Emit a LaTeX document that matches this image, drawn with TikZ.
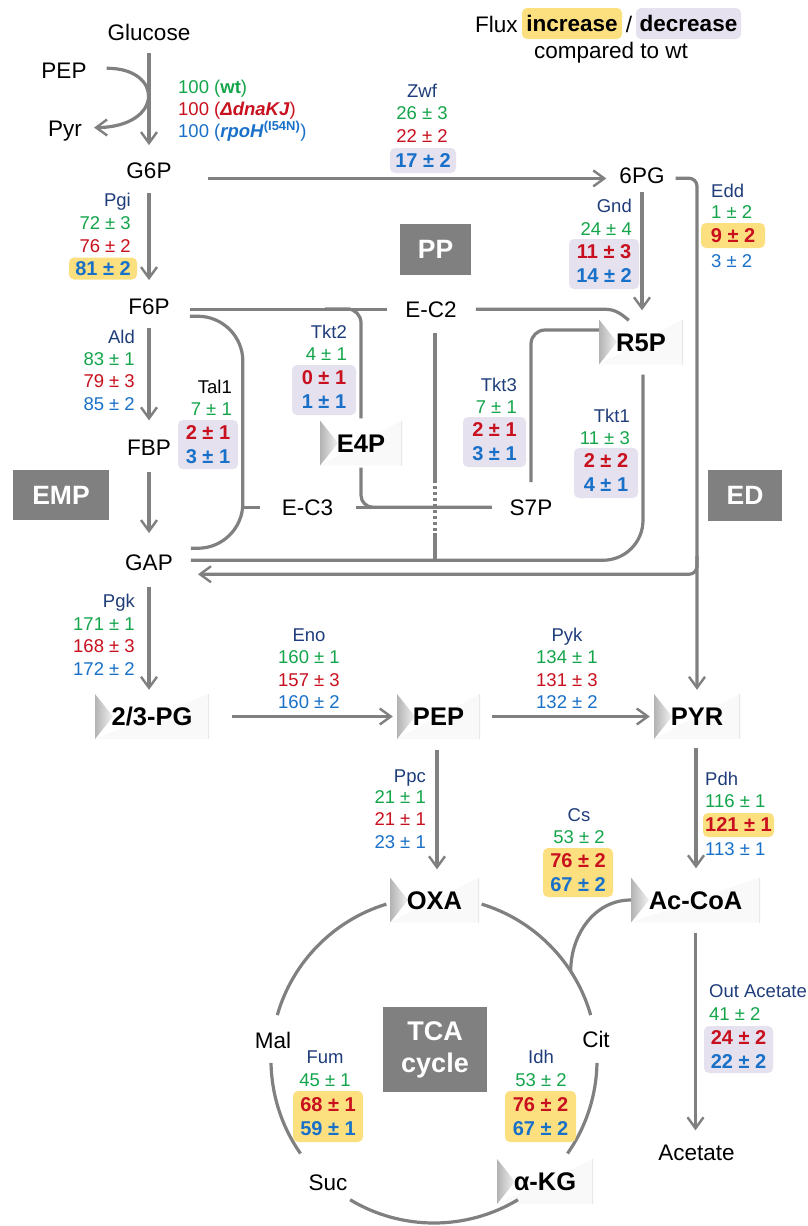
\documentclass[tikz,border=0pt]{standalone}
\usepackage{fontspec}
\setmainfont{Liberation Sans}
\usetikzlibrary{arrows.meta,calc}
\definecolor{lc}{RGB}{128,128,128}
\definecolor{boxg}{RGB}{128,128,128}
\definecolor{enzc}{RGB}{31,61,122}
\definecolor{vgc}{RGB}{20,165,75}
\definecolor{vrc}{RGB}{200,16,30}
\definecolor{vbc}{RGB}{24,112,200}
\definecolor{yel}{RGB}{252,224,128}
\definecolor{lav}{RGB}{229,225,238}
\tikzset{
  line/.style={draw=lc, line width=3.2pt},
  arr/.style={line, -{Straight Barb[length=11pt,width=16pt,line width=2.4pt]}},
  met/.style={font=\fontsize{22.5}{26}\selectfont, inner sep=0pt, anchor=base},
  leg/.style={font=\fontsize{22.5}{26}\selectfont, inner sep=0pt},
  legb/.style={font=\bfseries\fontsize{22.5}{26}\selectfont, inner sep=0pt, rounded corners=5pt},
  bm/.style={font=\bfseries\fontsize{25.5}{30}\selectfont, inner sep=0pt, minimum height=45pt,
    text height=18.3pt, text depth=0pt, fill=white,
    path picture={
      \fill[gray!5] (path picture bounding box.south west) -- (path picture bounding box.north east) -- (path picture bounding box.south east) -- cycle;
      \shade[left color=gray!60, right color=gray!10] (path picture bounding box.north west) -- ([xshift=18pt]path picture bounding box.west) -- (path picture bounding box.south west) -- cycle;
      \draw[gray!18, line width=1.5pt] (path picture bounding box.north east) -- (path picture bounding box.south east);
    }},
  pbox/.style={fill=boxg, text=white, font=\bfseries\fontsize{26.5}{30}\selectfont, inner sep=0pt},
  enz/.style={text=enzc, font=\fontsize{18.5}{22}\selectfont, inner sep=0pt},
  vk/.style={enz, text=black},
  vg/.style={enz, text=vgc},
  vr/.style={enz, text=vrc},
  vb/.style={enz, text=vbc},
  hly/.style={fill=yel, rounded corners=5pt, inner sep=0pt, align=center, font=\bfseries\fontsize{20}{24}\selectfont},
  hll/.style={hly, fill=lav},
}
\begin{document}
\begin{tikzpicture}[x=1pt,y=1pt]
\useasboundingbox[fill=white] (0,0) rectangle (808,-1226);

% ---------- legend ----------
\node[leg, anchor=base west] (flux) at (475,-32) {Flux};
\node[legb, fill=yel, minimum width=100pt, minimum height=31pt] (inc) at (572,-23.5) {increase};
\node[leg, anchor=base] (slash) at (629,-32) {/};
\node[legb, fill=lav, minimum width=105pt, minimum height=31pt] (dec) at (688.5,-23.5) {decrease};
\node[leg, anchor=base] (cmp) at (611,-58) {compared to wt};

% ---------- metabolites (plain) ----------
\node[met] (glc) at (149,-40) {Glucose};
\node[met] (pepl) at (64,-78) {PEP};
\node[met] (pyrl) at (65,-136) {Pyr};
\node[met] (g6p) at (149,-178) {G6P};
\node[met] (pg6) at (642,-183) {6PG};
\node[met] (f6p) at (149,-314) {F6P};
\node[met] (ec2) at (431,-317) {E-C2};
\node[met] (fbp) at (149,-455) {FBP};
\node[met] (ec3) at (307.5,-515) {E-C3};
\node[met] (s7p) at (531,-515) {S7P};
\node[met] (gap) at (149,-570) {GAP};
\node[met] (mal) at (273,-1048) {Mal};
\node[met] (cit) at (596,-1047) {Cit};
\node[met] (suc) at (328,-1190) {Suc};
\node[met] (acet) at (696.5,-1160) {Acetate};

% ---------- metabolites (boxed, bold) ----------
\node[bm, minimum width=84pt] (r5p) at (641,-342) {R5P};
\node[bm, minimum width=82pt] (e4p) at (361,-443) {E4P};
\node[bm, minimum width=114pt] (pg23) at (152,-716.5) {2/3-PG};
\node[bm, minimum width=83pt] (pepb) at (438.5,-716.5) {PEP};
\node[bm, minimum width=86pt] (pyr) at (697,-716.5) {PYR};
\node[bm, minimum width=89pt] (oxa) at (434.5,-900) {OXA};
\node[bm, minimum width=129pt] (accoa) at (695.5,-900) {Ac-CoA};
\node[bm, minimum width=96pt] (akg) at (545,-1181.5) {α-KG};

% ---------- pathway boxes ----------
\node[pbox, minimum width=71pt, minimum height=51pt] (pp) at (435.5,-249.5) {PP};
\node[pbox, minimum width=96pt, minimum height=50pt] (emp) at (61,-495) {EMP};
\node[pbox, minimum width=74pt, minimum height=51pt] (ed) at (745,-495.5) {ED};
\node[pbox, minimum width=104pt, minimum height=85pt, align=center, font=\bfseries\fontsize{27}{32}\selectfont] (tcab) at (435,-1049.5) {TCA\\cycle};

% ---------- connectors ----------
\draw[arr, shorten <=13pt, shorten >=17pt] (glc.south) -- (g6p.north);
\draw[arr] ([xshift=20pt,yshift=2pt]pepl.east) .. controls (164,-68) and (164,-127) .. ([xshift=12pt,yshift=3pt]pyrl.east);
\draw[arr, shorten <=15pt, shorten >=18pt] (g6p.south) -- (f6p.north);
\draw[arr, shorten <=14pt, shorten >=19pt] (f6p.south) -- (fbp.north);
\draw[arr, shorten <=17pt, shorten >=21pt] (fbp.south) -- (gap.north);
\draw[arr, shorten <=17pt, shorten >=4pt] (gap.south) -- (gap.south |- pg23.north);
\draw[arr, shorten <=36pt, shorten >=13pt] (g6p.south east) -- (g6p.south east -| pg6.west);
\draw[arr, rounded corners=8pt, shorten <=11pt, shorten >=4pt] ([yshift=-3pt]pg6.east) -| (pyr.north);
\coordinate (edj) at (697,-556);
\draw[arr, rounded corners=8pt, shorten >=25pt] (edj) |- ([yshift=-12pt]gap.east);
\draw[arr, shorten <=9pt, shorten >=9pt] (pg6.south) -- (pg6.south |- r5p.north);
\draw[line, rounded corners=40pt, shorten <=10pt, shorten >=18pt] ([xshift=2pt]r5p.south) |- ([yshift=2pt]gap.east);
% E-C2 vertical
\draw[line] ([xshift=4pt,yshift=-16pt]ec2.south) -- ++(0,-147) coordinate (dd1);
\draw[line, dash pattern=on 3pt off 3pt] (dd1) -- ++(0,-53) coordinate (dd2);
\draw[line] (dd2) -- ++(0,-27);
% F6P - E-C2 - R5P
\draw[line, shorten <=20pt, shorten >=18pt] ([yshift=-3pt]f6p.east) -- (ec2.west);
\draw[line, shorten <=19pt] (ec2.east) -- ([xshift=6pt]r5p.north west |- ec2.east) to[out=0,in=140] ([xshift=30pt,yshift=-1pt]r5p.north west);
% Tkt2
\coordinate (tk2s) at (325,-308.85);
\draw[line, rounded corners=14pt, shorten >=2pt] (tk2s) -| (e4p.north);
\draw[line, rounded corners=12pt, shorten <=2pt, shorten >=18pt] (e4p.south) |- (s7p.west);
% E-C3
\draw[line, shorten <=23pt, shorten >=18pt] (ec3.east) -- (s7p.west);
\draw[line, shorten <=22pt] (ec3.west) -- ++(-39,0);
% Tal1 bracket
\coordinate (talS) at ([xshift=20pt,yshift=-10pt]f6p.east);
\coordinate (talE) at ([xshift=18pt,yshift=14pt]gap.east);
\draw[line] (talS) -- ++(8,0) arc[start angle=90, end angle=0, radius=45] -- ++(0,-142) arc[start angle=0, end angle=-90, radius=45] -- (talE);
% Tkt3
\draw[line, rounded corners=14pt, shorten <=17pt] (s7p.north) |- ([yshift=12pt]r5p.west);
% lower glycolysis
\draw[arr, shorten <=23pt, shorten >=4pt] (pg23.east) -- (pepb.west);
\draw[arr, shorten <=12pt, shorten >=4pt] (pepb.east) -- (pyr.west);
\draw[arr, shorten <=11pt, shorten >=8pt] ([xshift=-1.5pt]pepb.south) -- ([xshift=-1.5pt]pepb.south |- oxa.north);
\draw[arr, shorten <=9pt, shorten >=9pt] ([xshift=-1pt]pyr.south) -- ([xshift=-1pt]pyr.south |- accoa.north);
\draw[arr, shorten <=10pt, shorten >=14pt] (accoa.south) -- (accoa.south |- acet.north);
% TCA cycle
\coordinate (tca) at (434,-1060);
\foreach \a/\b in {16/73, -35/-1, -121/-59, 181/215, 107/164}
  \draw[line] ([shift={(\a:163)}]tca) arc[start angle=\a, end angle=\b, radius=163];
\draw[line] (accoa.west) to[out=180,in=90] ([shift={(33:163)}]tca);

% ---------- flux labels ----------
\node[vg, anchor=base west] (w1) at (178,-93) {100 (\textbf{wt})};
\node[vr, anchor=base west] (w2) at (178,-115) {100 (\textbf{\textit{ΔdnaKJ}})};
\node[vb, anchor=base west] (w3) at (178,-137) {100 (\textbf{\textit{rpoH}}\textsuperscript{\textbf{(I54N)}})};
% Zwf
\node[enz, anchor=base] (zwf) at (422,-97) {Zwf};
\node[vg, anchor=base] (zwf1) at (422,-119) {26 ± 3};
\node[vr, anchor=base] (zwf2) at (422,-142) {22 ± 2};
\node[hll, minimum width=66pt, minimum height=25pt] (zwf3) at (423,-160.5) {\textcolor{vbc}{17 ± 2}};
% Edd
\node[enz, anchor=base west] (edd) at (711,-197) {Edd};
\node[vg, anchor=base west] (edd1) at (711,-218) {1 ± 2};
\node[hly, minimum width=64pt, minimum height=25pt] (edd2) at (733,-235.5) {\textcolor{vrc}{9 ± 2}};
\node[vb, anchor=base west] (edd3) at (711,-267) {3 ± 2};
% Gnd
\node[enz, anchor=base east] (gnd) at (632,-212) {Gnd};
\node[vg, anchor=base east] (gnd1) at (632,-235) {24 ± 4};
\node[hll, minimum width=70pt, minimum height=50pt] (gnd2) at (604,-264) {\textcolor{vrc}{11 ± 3}\\\textcolor{vbc}{14 ± 2}};
% Pgi
\node[enz, anchor=base east] (pgi) at (131,-206) {Pgi};
\node[vg, anchor=base east] (pgi1) at (131,-229) {72 ± 3};
\node[vr, anchor=base east] (pgi2) at (131,-252) {76 ± 2};
\node[hly, minimum width=68pt, minimum height=22pt] (pgi3) at (103,-268.5) {\textcolor{vbc}{81 ± 2}};
% Ald
\node[enz, anchor=base east] (ald) at (135,-343) {Ald};
\node[vg, anchor=base east] (ald1) at (135,-365) {83 ± 1};
\node[vr, anchor=base east] (ald2) at (135,-387) {79 ± 3};
\node[vb, anchor=base east] (ald3) at (135,-410) {85 ± 2};
% Tkt2
\node[enz, anchor=base east] (tkt2) at (347,-338) {Tkt2};
\node[vg, anchor=base east] (tkt21) at (347,-360) {4 ± 1};
\node[hll, minimum width=64pt, minimum height=50pt] (tkt22) at (324,-390) {\textcolor{vrc}{0 ± 1}\\\textcolor{vbc}{1 ± 1}};
% Tal1
\node[vk, anchor=base east] (tal) at (232,-393) {Tal1};
\node[vg, anchor=base east] (tal1) at (232,-415) {7 ± 1};
\node[hll, minimum width=60pt, minimum height=49pt] (tal2) at (208,-444.5) {\textcolor{vrc}{2 ± 1}\\\textcolor{vbc}{3 ± 1}};
% Tkt3
\node[enz, anchor=base east] (tkt3) at (517,-391) {Tkt3};
\node[vg, anchor=base east] (tkt31) at (517,-413) {7 ± 1};
\node[hll, minimum width=63pt, minimum height=50pt] (tkt32) at (494.5,-442) {\textcolor{vrc}{2 ± 1}\\\textcolor{vbc}{3 ± 1}};
% Tkt1
\node[enz, anchor=base east] (tkt1) at (630,-422) {Tkt1};
\node[vg, anchor=base east] (tkt11) at (630,-444) {11 ± 3};
\node[hll, minimum width=64pt, minimum height=50pt] (tkt12) at (606,-473) {\textcolor{vrc}{2 ± 2}\\\textcolor{vbc}{4 ± 1}};
% Pgk
\node[enz, anchor=base east] (pgk) at (135,-607) {Pgk};
\node[vg, anchor=base east] (pgk1) at (135,-630) {171 ± 1};
\node[vr, anchor=base east] (pgk2) at (135,-652) {168 ± 3};
\node[vb, anchor=base east] (pgk3) at (135,-675) {172 ± 2};
% Eno
\node[enz, anchor=base] (eno) at (309,-641) {Eno};
\node[vg, anchor=base] (eno1) at (309,-663) {160 ± 1};
\node[vr, anchor=base] (eno2) at (309,-686) {157 ± 3};
\node[vb, anchor=base] (eno3) at (309,-708) {160 ± 2};
% Pyk
\node[enz, anchor=base] (pyk) at (567,-641) {Pyk};
\node[vg, anchor=base] (pyk1) at (567,-663) {134 ± 1};
\node[vr, anchor=base] (pyk2) at (567,-686) {131 ± 3};
\node[vb, anchor=base] (pyk3) at (567,-708) {132 ± 2};
% Ppc
\node[enz, anchor=base east] (ppc) at (426,-782) {Ppc};
\node[vg, anchor=base east] (ppc1) at (426,-803) {21 ± 1};
\node[vr, anchor=base east] (ppc2) at (426,-825) {21 ± 1};
\node[vb, anchor=base east] (ppc3) at (426,-848) {23 ± 1};
% Pdh
\node[enz, anchor=base west] (pdh) at (705,-785) {Pdh};
\node[vg, anchor=base west] (pdh1) at (705,-807) {116 ± 1};
\node[hly, minimum width=71pt, minimum height=24pt] (pdh2) at (738.5,-825) {\textcolor{vrc}{121 ± 1}};
\node[vb, anchor=base west] (pdh3) at (705,-855) {113 ± 1};
% Cs
\node[enz, anchor=base] (cs) at (579,-821) {Cs};
\node[vg, anchor=base] (cs1) at (579,-843) {53 ± 2};
\node[hly, minimum width=70pt, minimum height=49pt] (cs2) at (578,-872.5) {\textcolor{vrc}{76 ± 2}\\\textcolor{vbc}{67 ± 2}};
% Out Acetate
\node[enz, anchor=base west] (oac) at (709,-997) {Out Acetate};
\node[vg, anchor=base west] (oac1) at (709,-1020) {41 ± 2};
\node[hll, minimum width=69pt, minimum height=47pt] (oac2) at (738.5,-1049.5) {\textcolor{vrc}{24 ± 2}\\\textcolor{vbc}{22 ± 2}};
% Fum
\node[enz, anchor=base] (fum) at (325,-1063) {Fum};
\node[vg, anchor=base] (fum1) at (325,-1086) {45 ± 1};
\node[hly, minimum width=70pt, minimum height=51pt] (fum2) at (328,-1116.5) {\textcolor{vrc}{68 ± 1}\\\textcolor{vbc}{59 ± 1}};
% Idh
\node[enz, anchor=base] (idh) at (541,-1063) {Idh};
\node[vg, anchor=base] (idh1) at (541,-1086) {53 ± 2};
\node[hly, minimum width=71pt, minimum height=51pt] (idh2) at (540.5,-1116.5) {\textcolor{vrc}{76 ± 2}\\\textcolor{vbc}{67 ± 2}};
\end{tikzpicture}
\end{document}
